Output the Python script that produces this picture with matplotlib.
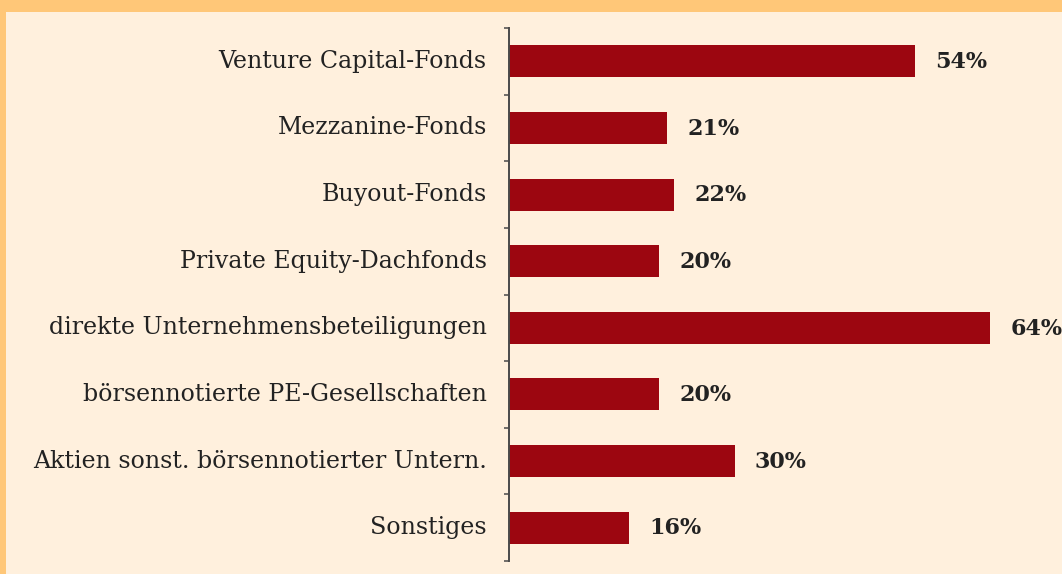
import matplotlib
matplotlib.use("Agg")
import matplotlib.pyplot as plt
from matplotlib.patches import Rectangle
import numpy as np

categories = [
    "Venture Capital-Fonds",
    "Mezzanine-Fonds",
    "Buyout-Fonds",
    "Private Equity-Dachfonds",
    "direkte Unternehmensbeteiligungen",
    "börsennotierte PE-Gesellschaften",
    "Aktien sonst. börsennotierter Untern.",
    "Sonstiges",
]
values = [54, 21, 22, 20, 64, 20, 30, 16]

BAR = "#9c0610"
CREAM = "#fff0dd"
ORANGE = "#ffc778"
TEXT = "#222222"

W, H = 1062, 574
fig = plt.figure(figsize=(W / 100, H / 100), dpi=100, facecolor=ORANGE)
fig.patches.append(Rectangle((6 / W, 0), 1, (H - 12) / H, transform=fig.transFigure,
                             facecolor=CREAM, edgecolor="none", zorder=-10))

ax = fig.add_axes([509 / W, 13 / H, 1 - 509 / W, (561 - 28) / H])
ax.set_facecolor("none")

y = np.arange(len(categories))
ax.barh(y, values, height=0.48, color=BAR, zorder=2)
ax.set_ylim(len(categories) - 0.5, -0.5)
ax.set_xlim(0, (W - 509) / 7.52)

for yi, v in zip(y, values):
    ax.annotate(f"{v}%", (v, yi), xytext=(14.5, -0.5), textcoords="offset points",
                ha="left", va="center", fontsize=16, fontweight="bold",
                family="DejaVu Serif", color=TEXT)

for yi, c in zip(y, categories):
    ax.annotate(c, (0, yi), xytext=(-16, 0), textcoords="offset points",
                ha="right", va="center", fontsize=17.1, family="DejaVu Serif",
                color=TEXT, annotation_clip=False)

for s in ["top", "right", "bottom"]:
    ax.spines[s].set_visible(False)
ax.spines["left"].set_color("#4a4a4a")
ax.spines["left"].set_linewidth(1.4)
ax.set_yticks(np.arange(-0.5, len(categories) + 0.5, 1))
ax.set_yticklabels([])
ax.tick_params(axis="y", direction="out", length=3.5, width=1.1, color="#4a4a4a")
ax.set_xticks([])

fig.savefig("out.png", dpi=100, facecolor=fig.get_facecolor())
